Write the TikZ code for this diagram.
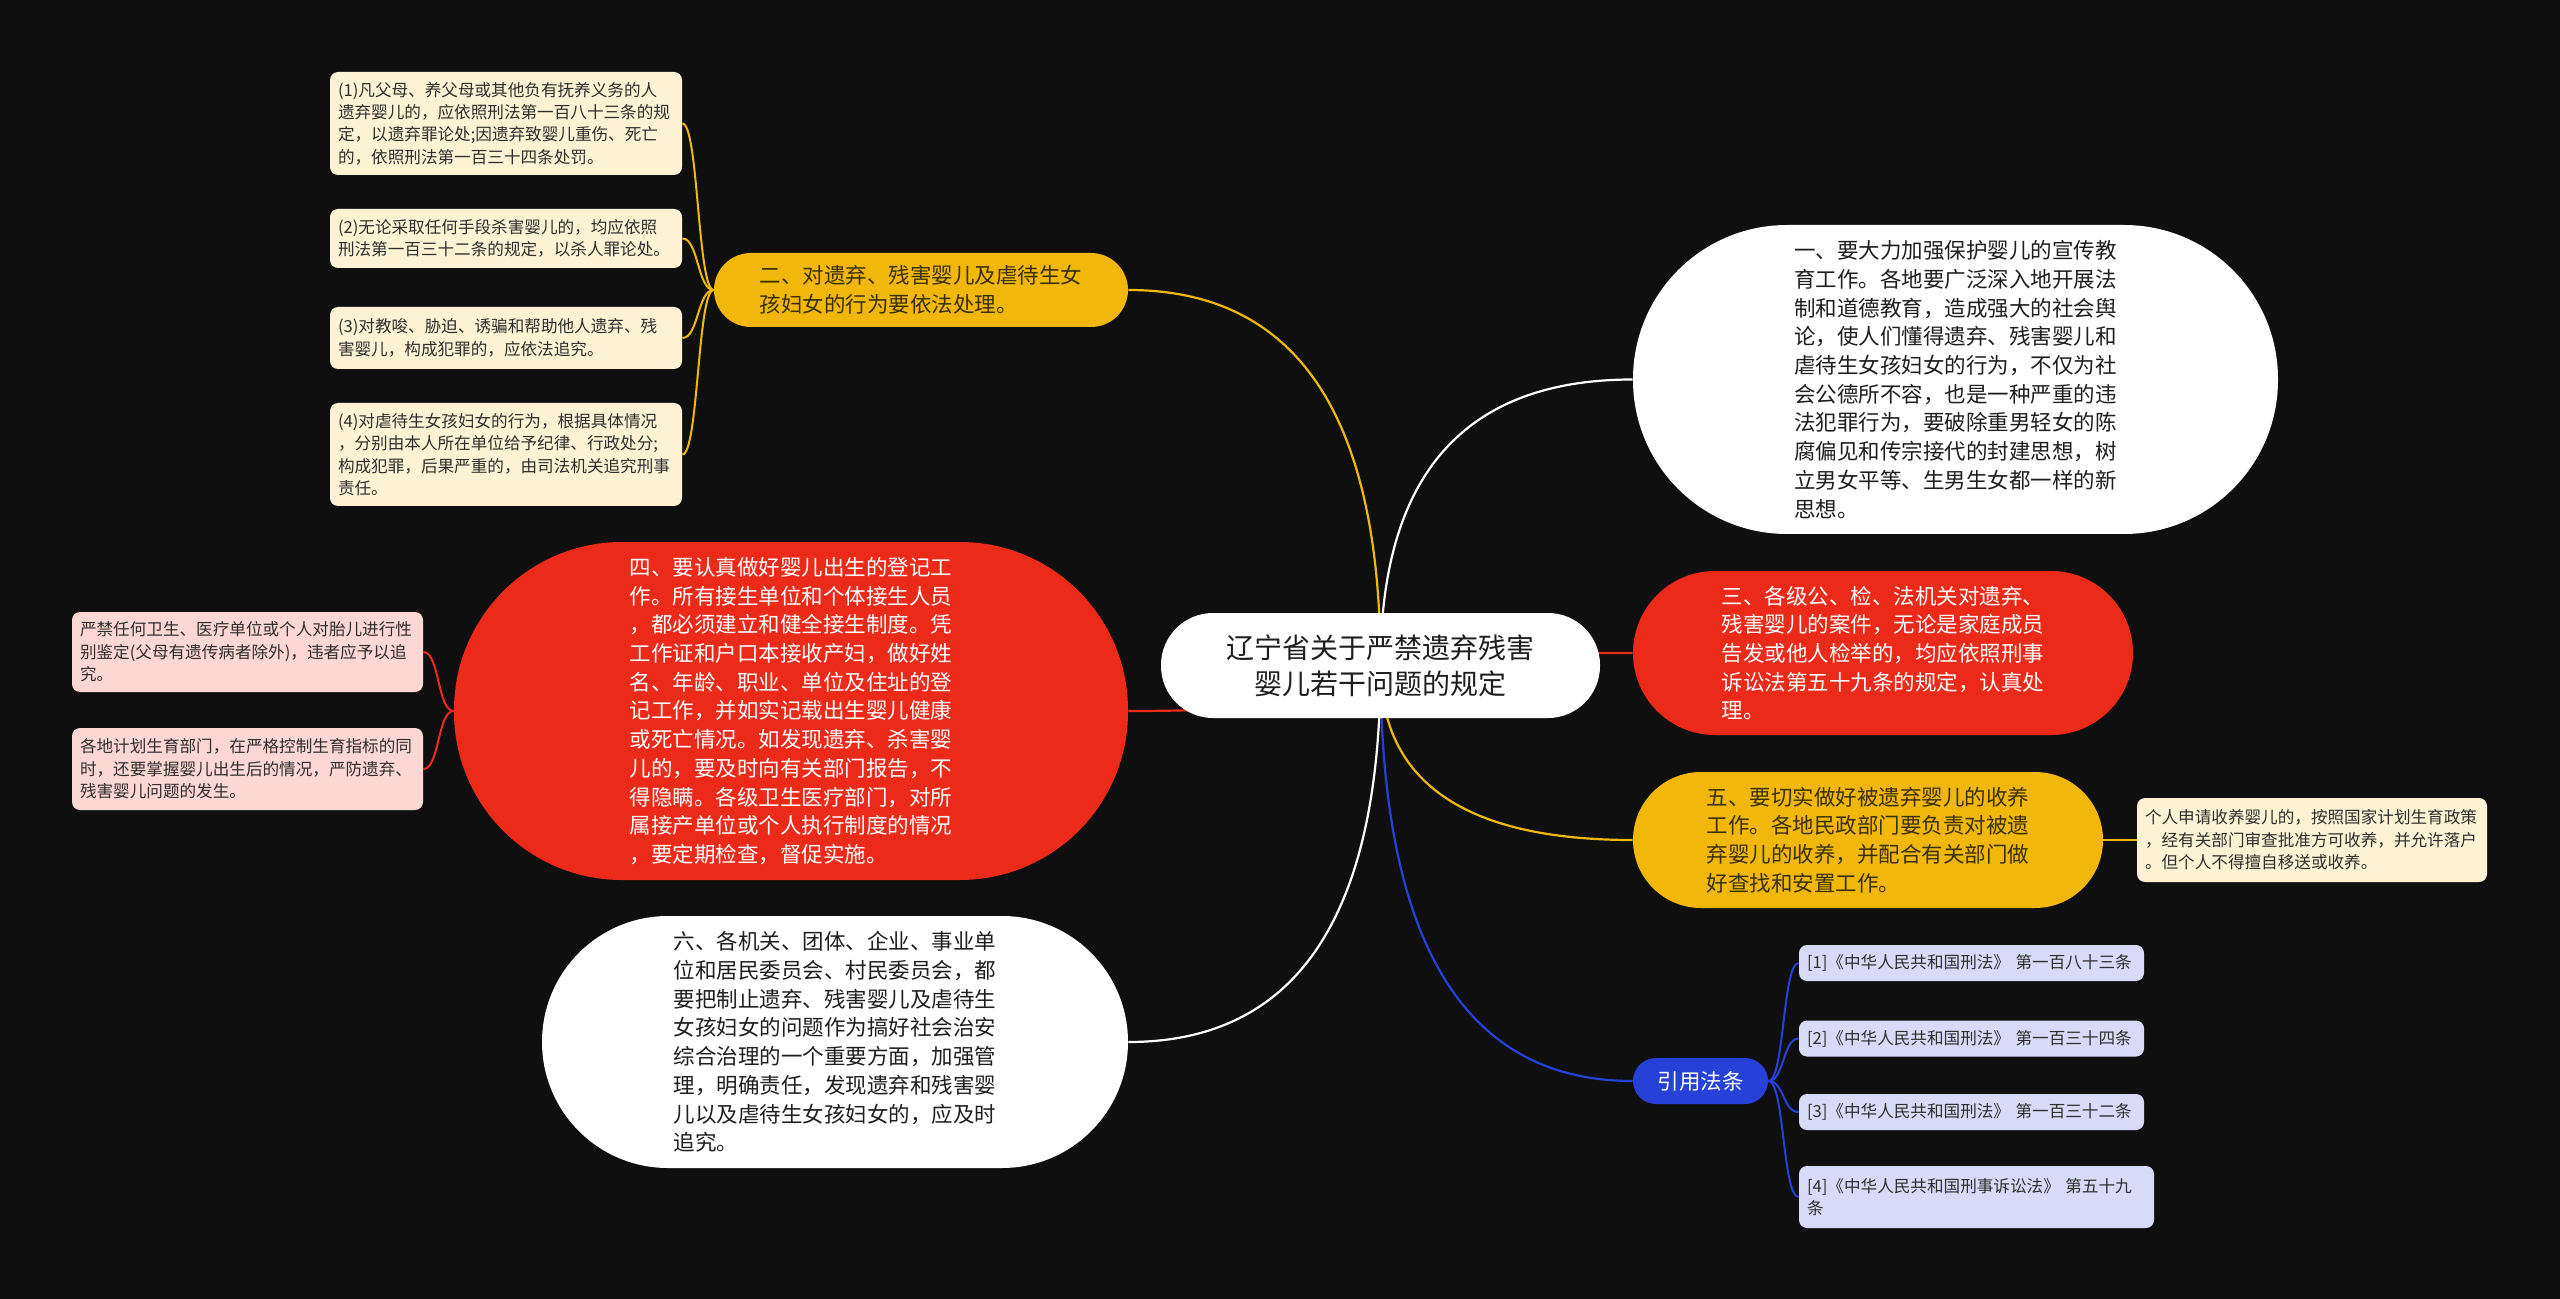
\documentclass[tikz,border=0pt]{standalone}
\usepackage{fontspec}
\setmainfont{Noto Sans CJK SC}
\usepackage{xcolor}
\usepackage{tikz}
\usetikzlibrary{positioning, calc, backgrounds}

\definecolor{bgblack}{HTML}{0F0F0F}
\definecolor{mapred}{HTML}{EC2A1A}
\definecolor{mapgold}{HTML}{F1B80B}
\definecolor{mapblue}{HTML}{2541D8}
\definecolor{leafcream}{HTML}{FDF3D4}
\definecolor{leafpink}{HTML}{FCD7D3}
\definecolor{leaflilac}{HTML}{D8DBF8}
\definecolor{inkdark}{HTML}{1E1E1E}
\definecolor{inkgold}{HTML}{3A3005}
\definecolor{inkleaf}{HTML}{2E2E2E}

\tikzset{
    quad/.style={to path={.. controls ($(\tikztostart)!0.667!(\tikztostart |- \tikztotarget)$) and ($(\tikztotarget)!0.667!(\tikztostart |- \tikztotarget)$) .. (\tikztotarget)}},
    twigl/.style={out=180, in=0, out distance=8pt, in distance=8pt},
    twigr/.style={out=0, in=180, out distance=8pt, in distance=8pt}
}

\begin{document}
\begin{tikzpicture}[
        x=0.5pt, y=-0.5pt,
        topic/.style={rectangle, inner sep=0pt, align=left, font=\fontsize{10.75pt}{14.35pt}\selectfont},
        roottopic/.style={topic, fill=white, text=inkdark, align=center, font=\fontsize{14pt}{18pt}\selectfont},
        whitetopic/.style={topic, fill=white, text=inkdark},
        redtopic/.style={topic, fill=mapred, text=white},
        goldtopic/.style={topic, fill=mapgold, text=inkgold},
        bluetopic/.style={topic, fill=mapblue, text=white, align=center},
        leaf/.style={rectangle, rounded corners=4pt, inner xsep=4pt, inner ysep=2pt, align=left, text=inkleaf, font=\fontsize{8.3pt}{11.2pt}\selectfont},
        creamleaf/.style={leaf, fill=leafcream},
        pinkleaf/.style={leaf, fill=leafpink},
        lilacleaf/.style={leaf, fill=leaflilac},
        link/.style={line width=1.1pt},
        twig/.style={line width=1pt}
    ]

    \useasboundingbox (0,0) rectangle (2560,1299);

    % centre
    \node[roottopic, minimum width=219.5pt, minimum height=52.5pt, rounded corners=26pt] (c) at (1380.5,665.5) {辽宁省关于严禁遗弃残害\\婴儿若干问题的规定};

    % right side
    \node[whitetopic, minimum width=322.5pt, minimum height=154.5pt, rounded corners=77pt] (n1) at (1955.5,379.5) {一、要大力加强保护婴儿的宣传教\\育工作。各地要广泛深入地开展法\\制和道德教育，造成强大的社会舆\\论，使人们懂得遗弃、残害婴儿和\\虐待生女孩妇女的行为，不仅为社\\会公德所不容，也是一种严重的违\\法犯罪行为，要破除重男轻女的陈\\腐偏见和传宗接代的封建思想，树\\立男女平等、生男生女都一样的新\\思想。};
    \node[redtopic, minimum width=250pt, minimum height=82pt, rounded corners=41pt] (n3) at (1883,653) {三、各级公、检、法机关对遗弃、\\残害婴儿的案件，无论是家庭成员\\告发或他人检举的，均应依照刑事\\诉讼法第五十九条的规定，认真处\\理。};
    \node[goldtopic, minimum width=235pt, minimum height=68pt, rounded corners=34pt] (n5) at (1868,840) {五、要切实做好被遗弃婴儿的收养\\工作。各地民政部门要负责对被遗\\弃婴儿的收养，并配合有关部门做\\好查找和安置工作。};
    \node[creamleaf, text width=167pt, minimum height=42pt] (adopt) at (2312,840) {个人申请收养婴儿的，按照国家计划生育政策\\，经有关部门审查批准方可收养，并允许落户\\。但个人不得擅自移送或收养。};
    \node[bluetopic, minimum width=67.5pt, minimum height=23pt, rounded corners=11.5pt] (ref) at (1700.5,1081) {引用法条};
    \node[lilacleaf, text width=164.5pt, minimum height=18pt] (r1) at (1971.5,963) {[1]《中华人民共和国刑法》~第一百八十三条};
    \node[lilacleaf, text width=164.5pt, minimum height=18pt] (r2) at (1971.5,1038.5) {[2]《中华人民共和国刑法》~第一百三十四条};
    \node[lilacleaf, text width=164.5pt, minimum height=18pt] (r3) at (1971.5,1112) {[3]《中华人民共和国刑法》~第一百三十二条};
    \node[lilacleaf, text width=169.5pt, minimum height=31pt] (r4) at (1976.5,1197) {[4]《中华人民共和国刑事诉讼法》~第五十九\\条};

    % left side
    \node[goldtopic, minimum width=207pt, minimum height=37pt, rounded corners=18.5pt] (n2) at (921,290) {二、对遗弃、残害婴儿及虐待生女\\孩妇女的行为要依法处理。};
    \node[creamleaf, text width=168pt, minimum height=51.5pt] (l1) at (506,123.5) {(1)凡父母、养父母或其他负有抚养义务的人\\遗弃婴儿的，应依照刑法第一百八十三条的规\\定，以遗弃罪论处;因遗弃致婴儿重伤、死亡\\的，依照刑法第一百三十四条处罚。};
    \node[creamleaf, text width=168pt, minimum height=29.5pt] (l2) at (506,238.5) {(2)无论采取任何手段杀害婴儿的，均应依照\\刑法第一百三十二条的规定，以杀人罪论处。};
    \node[creamleaf, text width=168pt, minimum height=31pt] (l3) at (506,338) {(3)对教唆、胁迫、诱骗和帮助他人遗弃、残\\害婴儿，构成犯罪的，应依法追究。};
    \node[creamleaf, text width=168pt, minimum height=51.5pt] (l4) at (506,454.5) {(4)对虐待生女孩妇女的行为，根据具体情况\\，分别由本人所在单位给予纪律、行政处分;\\构成犯罪，后果严重的，由司法机关追究刑事\\责任。};

    \node[redtopic, minimum width=337pt, minimum height=169pt, rounded corners=84pt] (n4) at (791,711) {四、要认真做好婴儿出生的登记工\\作。所有接生单位和个体接生人员\\，都必须建立和健全接生制度。凭\\工作证和户口本接收产妇，做好姓\\名、年龄、职业、单位及住址的登\\记工作，并如实记载出生婴儿健康\\或死亡情况。如发现遗弃、杀害婴\\儿的，要及时向有关部门报告，不\\得隐瞒。各级卫生医疗部门，对所\\属接产单位或个人执行制度的情况\\，要定期检查，督促实施。};
    \node[pinkleaf, text width=167.5pt, minimum height=40pt] (p1) at (247.5,652) {严禁任何卫生、医疗单位或个人对胎儿进行性\\别鉴定(父母有遗传病者除外)，违者应予以追\\究。};
    \node[pinkleaf, text width=167.5pt, minimum height=41pt] (p2) at (247.5,769) {各地计划生育部门，在严格控制生育指标的同\\时，还要掌握婴儿出生后的情况，严防遗弃、\\残害婴儿问题的发生。};

    \node[whitetopic, minimum width=293pt, minimum height=126pt, rounded corners=63pt] (n6) at (835,1042) {六、各机关、团体、企业、事业单\\位和居民委员会、村民委员会，都\\要把制止遗弃、残害婴儿及虐待生\\女孩妇女的问题作为搞好社会治安\\综合治理的一个重要方面，加强管\\理，明确责任，发现遗弃和残害婴\\儿以及虐待生女孩妇女的，应及时\\追究。};

    \begin{scope}[on background layer]
        \fill[bgblack] (0,0) rectangle (2560,1299);

        \draw[link, mapgold] (c.center) to[quad] (n2.east);
        \draw[link, white] (c.center) to[quad] (n1.west);
        \draw[link, mapred] (c.center) to[quad] (n3.west);
        \draw[link, mapgold] (c.center) to[quad] (n5.west);
        \draw[link, mapblue] (c.center) to[quad] (ref.west);
        \draw[link, mapred] (c.center) to[quad] (n4.east);
        \draw[link, white] (c.center) to[quad] (n6.east);

        \foreach \leaf in {l1,l2,l3,l4}
            \draw[twig, mapgold] (n2.west) to[twigl] (\leaf.east);
        \foreach \leaf in {p1,p2}
            \draw[twig, mapred] (n4.west) to[twigl] (\leaf.east);
        \foreach \leaf in {r1,r2,r3,r4}
            \draw[twig, mapblue] (ref.east) to[twigr] (\leaf.west);
        \draw[twig, mapgold] (n5.east) -- (adopt.west);
    \end{scope}

\end{tikzpicture}
\end{document}
